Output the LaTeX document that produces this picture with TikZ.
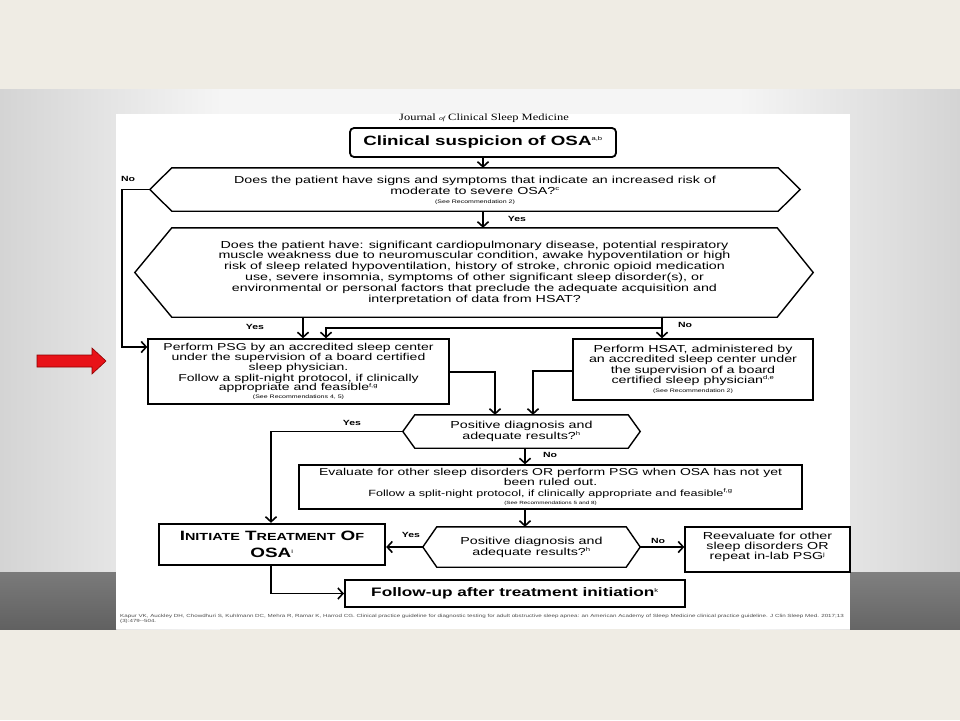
\documentclass[tikz,border=0pt]{standalone}
\usepackage{fontspec}
\setmainfont{Liberation Sans}
\newfontfamily\ff[FakeStretch=1.4]{Liberation Sans}
\newfontfamily\fser[FakeStretch=1.3]{Liberation Serif}
\usetikzlibrary{arrows.meta,calc}

\definecolor{cream}{RGB}{239,236,228}
\definecolor{slidegray}{RGB}{212,212,212}
\definecolor{redarrow}{RGB}{232,18,24}

\newcommand{\fsz}[2]{\fontsize{#1}{#2}\selectfont}
\newcommand{\sups}[1]{\textsuperscript{\fsz{5.5}{5.5}\mdseries #1}}
\newcommand{\bigsc}[1]{{\fsz{13.5}{14}#1}}
\newcommand{\smsc}[1]{{\fsz{10.3}{14}#1}}

\tikzset{
  box/.style={draw=black, line width=1.4pt, align=center, inner sep=0pt, font=\ff\fsz{10}{9.8}},
  hexa/.style={align=center, inner sep=0pt, font=\ff\fsz{10.2}{10.8}},
  outline/.style={draw=black, line width=1.4pt, line join=miter},
  conn/.style={draw=black, line width=1.6pt, -{Straight Barb[length=5pt,width=11pt,line width=1.6pt]}},
  lbl/.style={font=\ff\bfseries\fsz{7.5}{8}, inner sep=0pt},
}

\begin{document}
\begin{tikzpicture}[x=1pt,y=-1pt]
\useasboundingbox (0,0) rectangle (960,720);
% ---- slide background
\fill[cream] (0,0) rectangle (960,720);
\shade[left color=slidegray, right color=black!4] (0,89) rectangle (220,629);
\fill[black!4] (219,89) rectangle (741,629);
\shade[left color=black!4, right color=slidegray] (740,89) rectangle (960,629);
\shade[top color=black!52, bottom color=black!62] (0,572) rectangle (116,629);
\shade[top color=black!50, bottom color=black!60] (850,572) rectangle (960,629);
\fill[white] (116,114) rectangle (850,629);

% ---- red pointer arrow
\fill[redarrow, draw=red!55!black, line width=0.6pt] (37,355) -- (92,355) -- (92,348) -- (106,361) -- (92,374) -- (92,367) -- (37,367) -- cycle;

% ---- header
\node[font=\fser\fsz{9.6}{10}, inner sep=0pt] (jcsm) at (484,118) {Journal {\itshape\fsz{6}{6}of} Clinical Sleep Medicine};

% ---- nodes
\node[box, rounded corners=4pt, line width=1.8pt, minimum width=266pt, minimum height=29pt, font=\ff\bfseries\fsz{13.4}{13}] (title) at (483,142.5) {Clinical suspicion of OSA\sups{a,b}};

\node[hexa, minimum width=606pt, minimum height=43pt] (h1) at (475,189.5)
 {\rule{0pt}{9pt}Does the patient have signs and symptoms that indicate an increased risk of\\
  moderate to severe OSA?\sups{c}\\[-2pt]
  {\fsz{5}{5}(See Recommendation 2)}};

\node[hexa, minimum width=605pt, minimum height=89pt] (h2) at (474.5,272.5)
 {Does the patient have: significant cardiopulmonary disease, potential respiratory\\
  muscle weakness due to neuromuscular condition, awake hypoventilation or high\\
  risk of sleep related hypoventilation, history of stroke, chronic opioid medication\\
  use, severe insomnia, symptoms of other significant sleep disorder(s), or\\
  environmental or personal factors that preclude the adequate acquisition and\\
  interpretation of data from HSAT?};

\node[box, minimum width=301pt, minimum height=65pt] (psg) at (298.5,371.5)
 {Perform PSG by an accredited sleep center\\
  under the supervision of a board certified\\
  sleep physician.\\[1pt]
  Follow a split-night protocol, if clinically\\
  appropriate and feasible\sups{f,g}\\[-2pt]
  {\fsz{5}{5}(See Recommendations 4, 5)}};

\node[box, minimum width=240pt, minimum height=61pt, font=\ff\fsz{10.2}{10.2}] (hsat) at (693,369.5)
 {Perform HSAT, administered by\\
  an accredited sleep center under\\
  the supervision of a board\\
  certified sleep physician\sups{d,e}\\[-1pt]
  {\fsz{5}{5}(See Recommendation 2)}};

\node[hexa, minimum width=213pt, minimum height=33pt] (h3) at (521.5,431.5)
 {Positive diagnosis and\\ adequate results?\sups{h}};

\node[box, minimum width=503pt, minimum height=44pt] (eval) at (550.5,487)
 {Evaluate for other sleep disorders OR perform PSG when OSA has not yet\\
  been ruled out.\\[1pt]
  {\fsz{9}{9.8}Follow a split-night protocol, if clinically appropriate and feasible\sups{f,g}}\\[-2pt]
  {\fsz{4.5}{4.5}(See Recommendations 5 and 8)}};

\node[hexa, minimum width=189pt, minimum height=40pt] (h4) at (531.5,547)
 {Positive diagnosis and\\ adequate results?\sups{h}};

\node[box, line width=2.4pt, minimum width=226pt, minimum height=41pt, font=\ff\bfseries\fsz{13}{17}] (init) at (272,544.5)
 {\bigsc{I}\smsc{NITIATE} \bigsc{T}\smsc{REATMENT} \bigsc{O}\smsc{F}\\ \bigsc{OSA}\sups{i}};

\node[box, minimum width=165pt, minimum height=45pt, font=\ff\fsz{10.2}{10}] (reeval) at (767.5,549.5)
 {Reevaluate for other\\ sleep disorders OR\\ repeat in-lab PSG\sups{j}\\[-3pt]\mbox{}};

\node[box, line width=2pt, minimum width=340pt, minimum height=27pt, font=\ff\bfseries\fsz{12.3}{12}] (follow) at (515,593.5)
 {Follow-up after treatment initiation\sups{k}};

% ---- hexagon outlines
\draw[outline] ($(h1.west)+(-22,0)$) -- (h1.north west) -- (h1.north east) -- ($(h1.east)+(22,0)$) -- (h1.south east) -- (h1.south west) -- cycle;
\draw[outline] ($(h2.west)+(-37,0)$) -- (h2.north west) -- (h2.north east) -- ($(h2.east)+(36,0)$) -- (h2.south east) -- (h2.south west) -- cycle;
\draw[outline] ($(h3.west)+(-12,0)$) -- (h3.north west) -- (h3.north east) -- ($(h3.east)+(12,0)$) -- (h3.south east) -- (h3.south west) -- cycle;
\draw[outline] ($(h4.west)+(-14,0)$) -- (h4.north west) -- (h4.north east) -- ($(h4.east)+(14,0)$) -- (h4.south east) -- (h4.south west) -- cycle;

% ---- helper coordinates
\coordinate (cx122) at (122,0);
\coordinate (cx303) at (303,0);
\coordinate (cx326) at (326,0);
\coordinate (cx662) at (662,0);
\coordinate (cx495) at (495,0);
\coordinate (cx533) at (533,0);
\coordinate (cx271) at (271,0);
\coordinate (cx525) at (525,0);
\coordinate (cy347) at (0,347);
\coordinate (cy328) at (0,328);
\coordinate (cy372) at (0,372);
\coordinate (cy371) at (0,371);

% ---- connectors
\draw[conn] (title.south) -- (title.south |- h1.north);
\draw[conn] (h1.south -| title.south) -- (h2.north -| title.south);
\draw[conn] ($(h1.west)+(-22,0)$) -- (cx122 |- h1.west) -- (cx122 |- cy347) -- (psg.west |- cy347);
\draw[conn] (cx303 |- h2.south) -- (cx303 |- psg.north);
\draw[conn] (cx662 |- h2.south) -- (cx662 |- hsat.north);
\draw[conn] (cx662 |- cy328) -- (cx326 |- cy328) -- (cx326 |- psg.north);
\draw[conn] (psg.east |- cy372) -- (cx495 |- cy372) -- (cx495 |- h3.north);
\draw[conn] (hsat.west |- cy371) -- (cx533 |- cy371) -- (cx533 |- h3.north);
\draw[conn] ($(h3.west)+(-12,0)$) -- (cx271 |- h3.west) -- (cx271 |- init.north);
\draw[conn] (cx525 |- h3.south) -- (cx525 |- eval.north);
\draw[conn] (cx525 |- eval.south) -- (cx525 |- h4.north);
\draw[conn] ($(h4.west)+(-14,0)$) -- (init.east |- h4.west);
\draw[conn] ($(h4.east)+(14,0)$) -- (reeval.west |- h4.east);
\draw[conn] (cx271 |- init.south) -- (cx271 |- follow.west) -- (follow.west);

% ---- labels
\node[lbl] (l1) at (128,179) {No};
\node[lbl] (l2) at (517,219) {Yes};
\node[lbl] (l3) at (255,327) {Yes};
\node[lbl] (l4) at (685,325) {No};
\node[lbl] (l5) at (352,423) {Yes};
\node[lbl] (l6) at (550,455) {No};
\node[lbl] (l7) at (411,535) {Yes};
\node[lbl] (l8) at (658,541) {No};

% ---- citation
\node[font=\ff\fsz{4.45}{4.6}, text=black!70, align=left, anchor=north west, inner sep=0pt] (cite) at (120,614)
 {Kapur VK, Auckley DH, Chowdhuri S, Kuhlmann DC, Mehra R, Ramar K, Harrod CG. Clinical practice guideline for diagnostic testing for adult obstructive sleep apnea: an American Academy of Sleep Medicine clinical practice guideline. J Clin Sleep Med. 2017;13\\
  (3):479--504.};
\end{tikzpicture}
\end{document}
